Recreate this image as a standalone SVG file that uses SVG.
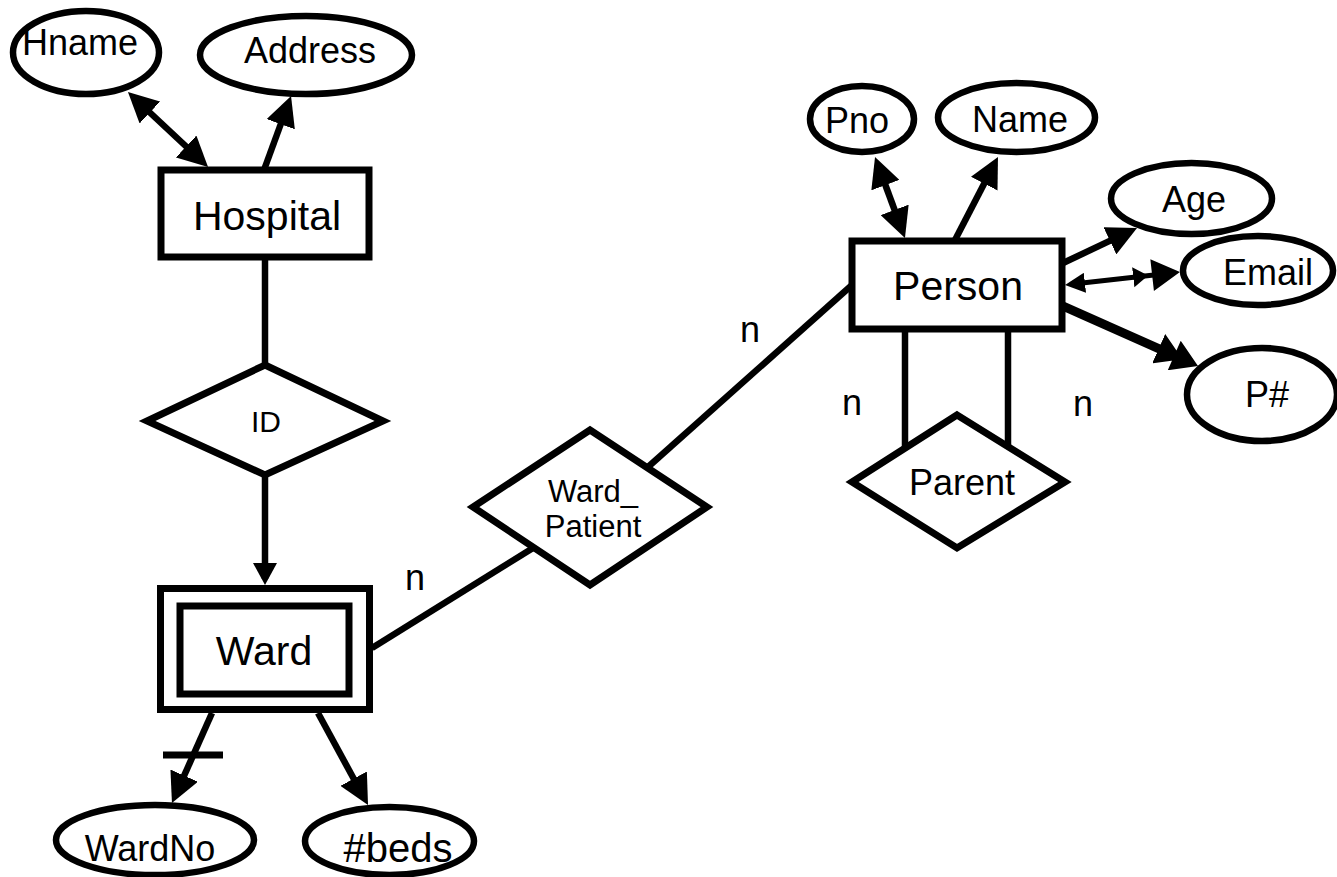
<svg xmlns="http://www.w3.org/2000/svg" width="1337" height="877" viewBox="0 0 1337 877">
  <style>
    .shape { fill: #ffffff; stroke: #000000; stroke-width: 7; stroke-linejoin: miter; }
    .attr { fill: #ffffff; stroke: #000000; stroke-width: 6.5; }
    .link { fill: none; stroke: #000000; stroke-width: 6.5; }
    .lbl { font-family: "Liberation Sans", Arial, sans-serif; fill: #000000; text-anchor: middle; }
    .ent { font-size: 41px; }
    .att { font-size: 36px; }
    .card { font-size: 36px; }
  </style>
  <defs>
    <marker id="head" markerUnits="userSpaceOnUse" viewBox="0 0 30 30" markerWidth="30" markerHeight="30" refX="22" refY="15" orient="auto-start-reverse">
      <path d="M0,0 L30,15 L0,30 z" fill="#000000"/>
    </marker>
    <marker id="headS" markerUnits="userSpaceOnUse" viewBox="0 0 22 24" markerWidth="22" markerHeight="24" refX="16" refY="12" orient="auto">
      <path d="M0,0 L22,12 L0,24 z" fill="#000000"/>
    </marker>
    <marker id="headSm" markerUnits="userSpaceOnUse" viewBox="0 0 20 20" markerWidth="20" markerHeight="20" refX="14" refY="10" orient="auto-start-reverse">
      <path d="M0,0 L20,10 L0,20 z" fill="#000000"/>
    </marker>
    <marker id="dbl" markerUnits="userSpaceOnUse" viewBox="0 0 47 32" markerWidth="47" markerHeight="32" refX="41" refY="16" orient="auto">
      <path d="M0,6 L15,16 L0,26 z M19,0 L47,16 L19,32 z" fill="#000000"/>
    </marker>
    <marker id="dblT" markerUnits="userSpaceOnUse" viewBox="0 0 43 32" markerWidth="43" markerHeight="32" refX="35" refY="16" orient="auto">
      <path d="M0,0 L26,16 L0,32 z M17,0 L43,16 L17,32 z" fill="#000000"/>
    </marker>
  </defs>

  <!-- connectors -->
  <g id="connectors">
    <line class="link" x1="202.2" y1="161.5" x2="133.8" y2="97.5" marker-start="url(#head)" marker-end="url(#head)"/>
    <line class="link" x1="264" y1="170" x2="288.3" y2="103.5" marker-end="url(#head)"/>
    <line class="link" x1="265" y1="257" x2="265" y2="366"/>
    <line class="link" x1="265" y1="475" x2="265" y2="579" marker-end="url(#headS)"/>
    <line class="link" x1="372" y1="648" x2="533" y2="548"/>
    <line class="link" x1="648" y1="467" x2="852" y2="285"/>
    <line class="link" x1="902.2" y1="230.5" x2="877.8" y2="164.5" marker-start="url(#head)" marker-end="url(#head)"/>
    <line class="link" x1="955" y1="240" x2="994.3" y2="164.1" marker-end="url(#head)"/>
    <line class="link" x1="1062" y1="263.5" x2="1129.8" y2="231.4" marker-end="url(#head)"/>
    <line class="link" style="stroke-width:5" x1="1071" y1="284.3" x2="1174" y2="272.7" marker-start="url(#headSm)" marker-end="url(#dbl)"/>
    <line class="link" style="stroke-width:9" x1="1062" y1="305.7" x2="1190.7" y2="362.8" marker-end="url(#dblT)"/>
    <line class="link" x1="905" y1="332" x2="905" y2="448"/>
    <line class="link" x1="1008" y1="332" x2="1008" y2="447"/>
    <line class="link" x1="212" y1="713" x2="175.2" y2="795.7" marker-end="url(#head)"/>
    <line class="link" style="stroke-width:7" x1="163" y1="755" x2="223" y2="755"/>
    <line class="link" x1="318" y1="713" x2="364.2" y2="798" marker-end="url(#head)"/>
  </g>

  <!-- entities -->
  <g id="hospital">
    <rect class="shape" x="161" y="170" width="208" height="87"/>
    <text class="lbl ent" x="267" y="230">Hospital</text>
  </g>
  <g id="person">
    <rect class="shape" x="852" y="241" width="210" height="88"/>
    <text class="lbl ent" x="958" y="300">Person</text>
  </g>
  <g id="ward">
    <rect class="shape" x="160.5" y="588.5" width="209" height="121"/>
    <rect class="shape" x="180" y="606" width="169" height="88"/>
    <text class="lbl ent" x="264" y="665">Ward</text>
  </g>

  <!-- relationships -->
  <g id="id-rel">
    <polygon class="shape" points="265,365 383,421 265,475 147,421"/>
    <text class="lbl" style="font-size:30px" x="266" y="432">ID</text>
  </g>
  <g id="ward-patient">
    <polygon class="shape" points="590,430 707,507 590,585 473,507"/>
    <text class="lbl" style="font-size:31px" x="593" y="502">Ward_</text>
    <text class="lbl" style="font-size:31px" x="593" y="537">Patient</text>
  </g>
  <g id="parent">
    <polygon class="shape" points="957,415 1065,482 957,548 852,482"/>
    <text class="lbl att" x="962" y="495">Parent</text>
  </g>

  <!-- attributes -->
  <g id="hname">
    <ellipse class="attr" cx="86" cy="52.5" rx="73" ry="41.5"/>
    <text class="lbl att" x="80" y="55">Hname</text>
  </g>
  <g id="address">
    <ellipse class="attr" cx="306" cy="55" rx="106" ry="39"/>
    <text class="lbl att" x="310" y="63">Address</text>
  </g>
  <g id="pno">
    <ellipse class="attr" cx="862" cy="119" rx="52" ry="33"/>
    <text class="lbl att" x="857" y="133">Pno</text>
  </g>
  <g id="name">
    <ellipse class="attr" cx="1016.5" cy="117.5" rx="78.5" ry="34.5"/>
    <text class="lbl att" x="1020" y="132">Name</text>
  </g>
  <g id="age">
    <ellipse class="attr" cx="1191.5" cy="198.5" rx="80.5" ry="35.5"/>
    <text class="lbl att" x="1194" y="212">Age</text>
  </g>
  <g id="email">
    <ellipse class="attr" cx="1258" cy="270.5" rx="75" ry="34.5"/>
    <text class="lbl att" x="1268" y="285">Email</text>
  </g>
  <g id="pnum">
    <ellipse class="attr" cx="1262" cy="394.5" rx="75" ry="46.5"/>
    <text class="lbl att" x="1267" y="407">P#</text>
  </g>
  <g id="wardno">
    <ellipse class="attr" cx="155" cy="840" rx="99" ry="35"/>
    <text class="lbl att" x="150" y="861">WardNo</text>
  </g>
  <g id="beds">
    <ellipse class="attr" cx="389.5" cy="841" rx="84.5" ry="34"/>
    <text class="lbl" style="font-size:40px" x="398" y="862">#beds</text>
  </g>

  <!-- cardinalities -->
  <g id="cardinalities">
    <text class="lbl card" x="415" y="590">n</text>
    <text class="lbl card" x="750" y="342">n</text>
    <text class="lbl card" x="852" y="415">n</text>
    <text class="lbl card" x="1083" y="416">n</text>
  </g>
</svg>
